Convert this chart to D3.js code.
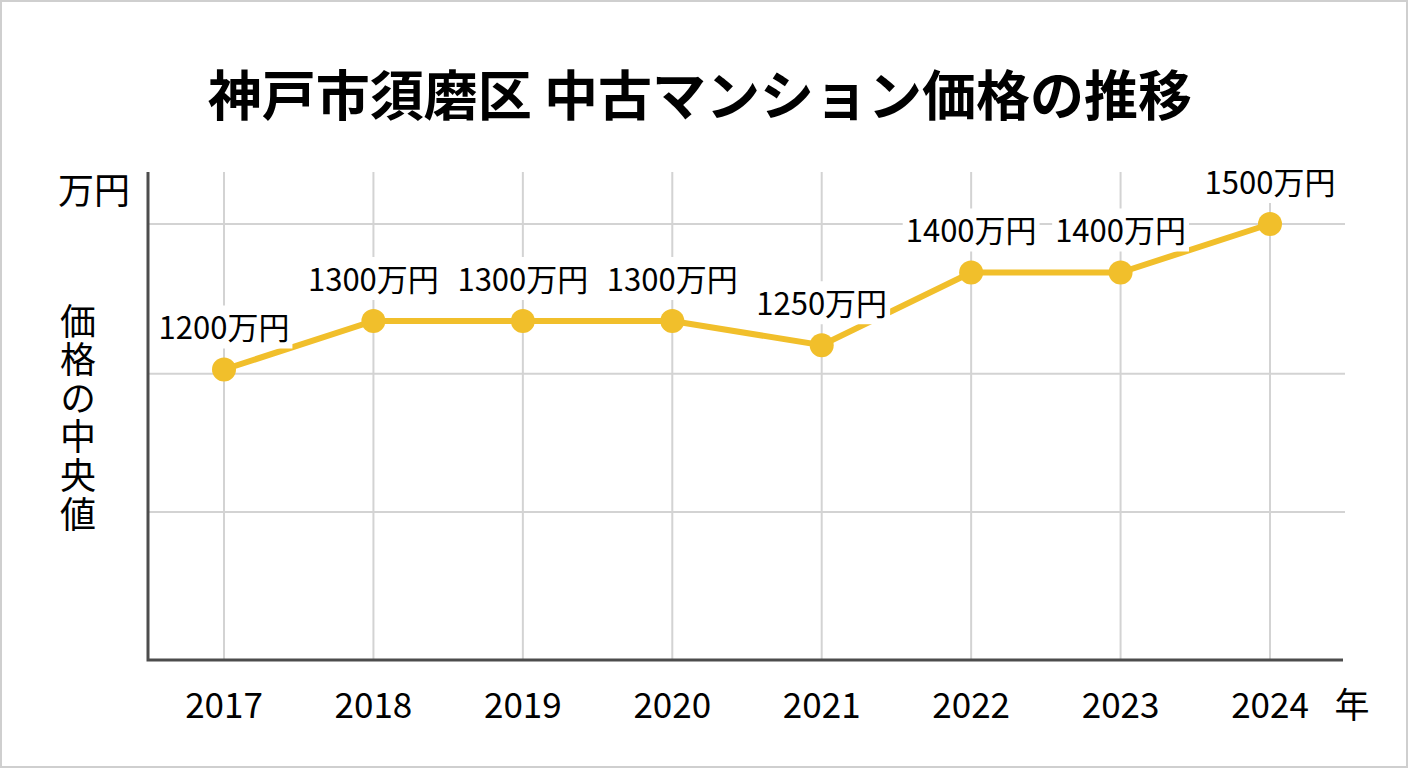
<!DOCTYPE html>
<html>
<head>
<meta charset="utf-8">
<title>神戸市須磨区 中古マンション価格の推移</title>
<script src="https://cdn.jsdelivr.net/npm/d3@7/dist/d3.min.js"></script>
<style>
  body { margin: 0; background: #fff; }
  svg text { font-family: "Noto Sans CJK JP", "Noto Sans", sans-serif; fill: #000; }
</style>
</head>
<body>
<div class="chart"></div>
<script>
// data
const years = [2017, 2018, 2019, 2020, 2021, 2022, 2023, 2024];
const prices = [1200, 1300, 1300, 1300, 1250, 1400, 1400, 1500];
const gridValues = [1500, 1191, 906];   // horizontal grid lines (not on round numbers in the original)

const width = 1408;
const height = 768;
const plotLeft = 148, plotRight = 1345, plotTop = 172, plotBottom = 660;

const svg = d3.select('.chart')
    .append('svg')
    .attr('width', width)
    .attr('height', height)

// outer frame
svg.append('rect')
    .attr('x', 1).attr('y', 1)
    .attr('width', width - 2).attr('height', height - 2)
    .attr('fill', '#fff')
    .attr('stroke', '#cfcfcf')
    .attr('stroke-width', 2)

const x = d3.scaleLinear().domain([2017, 2024]).range([224, 1270]);
const y = d3.scaleLinear().domain([601, 1500]).range([plotBottom, 224]);

// grid
svg.selectAll('line.vgrid')
    .data(years)
    .enter()
    .append('line')
    .attr('x1', d => x(d)).attr('x2', d => x(d))
    .attr('y1', plotTop).attr('y2', plotBottom)
    .attr('stroke', '#d3d3d3')
    .attr('stroke-width', 2)

svg.selectAll('line.hgrid')
    .data(gridValues)
    .enter()
    .append('line')
    .attr('x1', plotLeft).attr('x2', plotRight)
    .attr('y1', d => y(d)).attr('y2', d => y(d))
    .attr('stroke', '#d3d3d3')
    .attr('stroke-width', 2)

// axes
svg.append('path')
    .attr('d', `M${plotLeft},${plotTop}V${plotBottom}H${plotRight - 2}`)
    .attr('fill', 'none')
    .attr('stroke', '#4d4d4d')
    .attr('stroke-width', 3)

// line + dots
const pts = years.map((d, i) => [d, prices[i]]);
svg.append('path')
    .datum(pts)
    .attr('d', d3.line().x(d => x(d[0])).y(d => y(d[1])))
    .attr('fill', 'none')
    .attr('stroke', '#F1BF2B')
    .attr('stroke-width', 6)

svg.selectAll('circle')
    .data(pts)
    .enter()
    .append('circle')
    .attr('cx', d => x(d[0]))
    .attr('cy', d => y(d[1]))
    .attr('r', 12)
    .attr('fill', '#F1BF2B')

// value labels with white background
const lab = svg.selectAll('g.lab')
    .data(pts)
    .enter()
    .append('g')

lab.append('text')
    .attr('x', d => x(d[0]))
    .attr('y', d => y(d[1]) - 30)
    .attr('text-anchor', 'middle')
    .attr('font-size', '31px')
    .text(d => d[1] + '万円')

lab.each(function() {
    const g = d3.select(this);
    const b = g.select('text').node().getBBox();
    g.insert('rect', 'text')
        .attr('x', b.x - 3).attr('y', b.y + 2)
        .attr('width', b.width + 6).attr('height', b.height - 2)
        .attr('fill', '#fff')
})

// x tick labels
svg.selectAll('text.year')
    .data(years)
    .enter()
    .append('text')
    .attr('x', d => x(d))
    .attr('y', 718)
    .attr('text-anchor', 'middle')
    .attr('font-size', '35px')
    .text(d => d)

svg.append('text')
    .attr('x', 1352).attr('y', 718)
    .attr('text-anchor', 'middle')
    .attr('font-size', '35px')
    .text('年')

// y unit + vertical axis title
svg.append('text')
    .attr('x', 94).attr('y', 204)
    .attr('text-anchor', 'middle')
    .attr('font-size', '36px')
    .text('万円')

svg.append('text')
    .attr('x', 78)
    .attr('y', 303)
    .attr('writing-mode', 'vertical-rl')
    .attr('font-size', '36px')
    .attr('letter-spacing', '2.6px')
    .text('価格の中央値')

// title
svg.append('text')
    .attr('x', 700).attr('y', 116)
    .attr('text-anchor', 'middle')
    .attr('font-size', '54px')
    .attr('font-weight', 'bold')
    .text('神戸市須磨区 中古マンション価格の推移')
</script>
</body>
</html>
